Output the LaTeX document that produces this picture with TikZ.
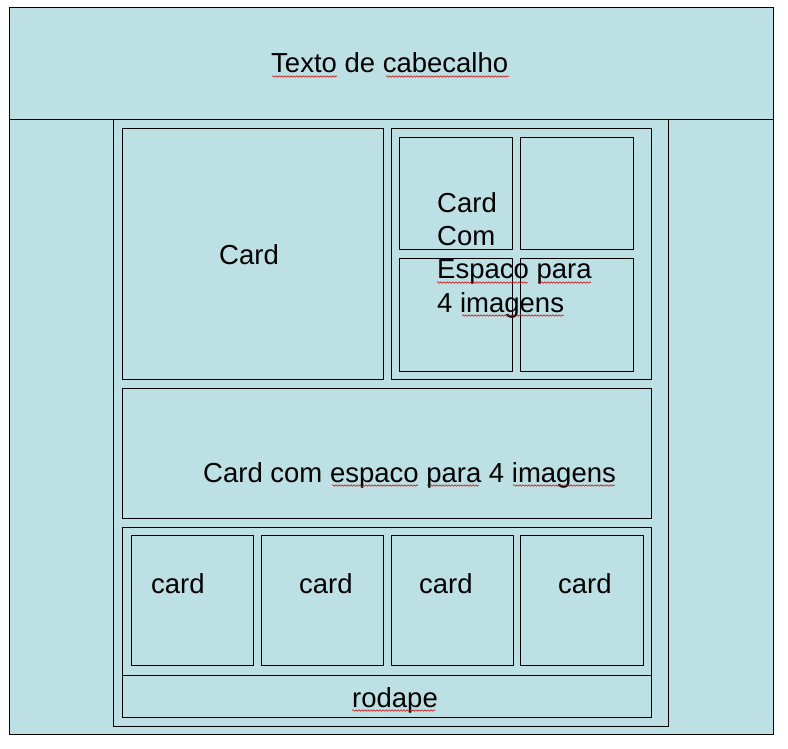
\documentclass[tikz,border=0pt]{standalone}
\usepackage{fontspec}
\setmainfont{Liberation Sans}
\usetikzlibrary{decorations.pathmorphing}
\definecolor{fundo}{RGB}{188,224,228}

\begin{document}
\begin{tikzpicture}[x=1pt,y=-1pt,
		box/.style={draw,line width=0.9pt},
		txt/.style={inner sep=0pt,anchor=base west,font=\fontsize{27.5}{33}\selectfont},
		erro/.style={draw=red!85!black,line width=0.5pt,decorate,
			decoration={snake,amplitude=0.8pt,segment length=3pt}}]
	\useasboundingbox (0,0) rectangle (788,749);
	% pagina e cabecalho
	\filldraw[box,fill=fundo] (9,7) rectangle (773,734);
	\draw[box] (9,119) -- (773,119);
	\draw[box] (113,119) rectangle (668,726);
	% primeira linha
	\draw[box] (122,128) rectangle (383,379);
	\draw[box] (391,128) rectangle (651,379);
	\draw[box] (399,137) rectangle (512,249);
	\draw[box] (520,137) rectangle (633,249);
	\draw[box] (399,258) rectangle (512,371);
	\draw[box] (520,258) rectangle (633,371);
	% card largo
	\draw[box] (122,388) rectangle (651,518);
	% cards de baixo e rodape
	\draw[box] (122,527) rectangle (651,675);
	\draw[box] (131,535) rectangle (253,665);
	\draw[box] (261,535) rectangle (383,665);
	\draw[box] (391,535) rectangle (513,665);
	\draw[box] (520,535) rectangle (643,665);
	\draw[box] (122,675) rectangle (651,717);

	\node[txt] (cab) at (271,73) {Texto de cabecalho};
	\node[txt] (card) at (219,265) {Card};
	\node[txt] (card4a) at (437,213) {Card};
	\node[txt] (card4b) at (437,246) {Com};
	\node[txt] (card4c) at (437,279) {Espaco para};
	\node[txt] (card4d) at (437,312) {4 imagens};
	\node[txt] (largo) at (203,482) {Card com espaco para 4 imagens};
	\node[txt] (c_1) at (151,593) {card};
	\node[txt] (c_2) at (299,593) {card};
	\node[txt] (c_3) at (419,593) {card};
	\node[txt] (c_4) at (558,593) {card};
	\node[txt] (rod) at (352,707) {rodape};

	% sublinhados do corretor
	\draw[erro] (272,76.5) -- (337,76.5);
	\draw[erro] (386,76.5) -- (509,76.5);
	\draw[erro] (437,282.5) -- (528,282.5);
	\draw[erro] (538,282.5) -- (591,282.5);
	\draw[erro] (462,315.5) -- (564,315.5);
	\draw[erro] (332,485.5) -- (418,485.5);
	\draw[erro] (427,485.5) -- (479,485.5);
	\draw[erro] (513,485.5) -- (615,485.5);
	\draw[erro] (352,710.5) -- (435,710.5);
\end{tikzpicture}
\end{document}
